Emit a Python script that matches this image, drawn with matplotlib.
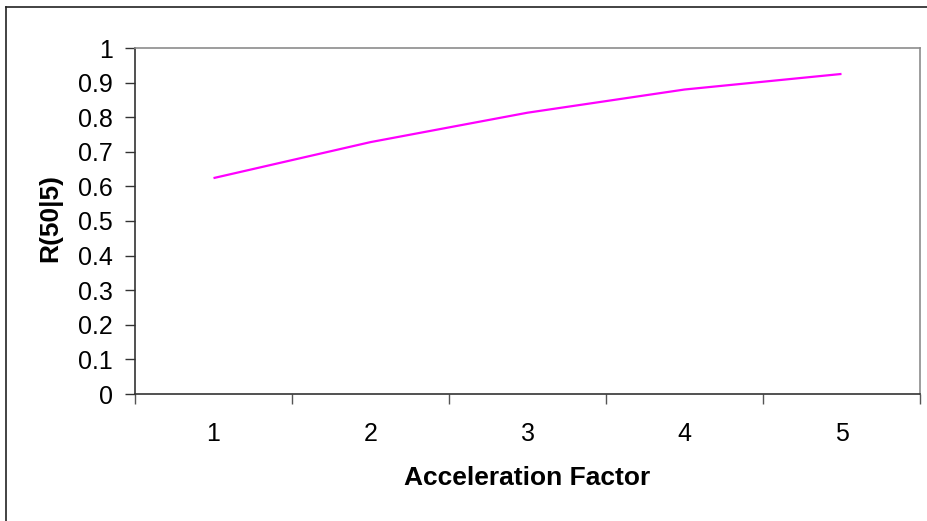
import matplotlib
matplotlib.use("Agg")
import matplotlib.pyplot as plt
from matplotlib.lines import Line2D

plt.rcParams['font.family'] = ['Liberation Sans', 'DejaVu Sans']

factors = [1, 2, 3, 4, 5]
reliability = [0.624, 0.728, 0.813, 0.880, 0.925]
y_ticks = [0, 0.1, 0.2, 0.3, 0.4, 0.5, 0.6, 0.7, 0.8, 0.9, 1]
y_tick_labels = ["0", "0.1", "0.2", "0.3", "0.4", "0.5", "0.6", "0.7", "0.8", "0.9", "1"]

fig = plt.figure(figsize=(9.28, 5.21), dpi=100)
ax = fig.add_axes([135 / 928, 1 - 394 / 521, (920 - 135) / 928, (394 - 48) / 521])

ax.plot(factors, reliability, color="#FF00FF", linewidth=1.6, solid_capstyle="butt")

ax.set_xlim(0.5, 5.5)
ax.set_ylim(0, 1)

ax.set_yticks(y_ticks)
ax.set_yticklabels(y_tick_labels)
ax.set_xticks(factors)
ax.set_xticklabels([str(f) for f in factors])
ax.set_xticks([0.5, 1.5, 2.5, 3.5, 4.5, 5.5], minor=True)

ax.tick_params(axis="y", which="major", direction="out", length=7, width=1,
               color="#333333", labelsize=18, pad=9)
ax.tick_params(axis="x", which="major", length=0, labelsize=18, pad=20)
ax.tick_params(axis="x", which="minor", direction="out", length=7, width=1,
               color="#555555")

for side in ("left", "bottom"):
    ax.spines[side].set_color("#333333")
    ax.spines[side].set_linewidth(1.2)
for side in ("top", "right"):
    ax.spines[side].set_color("#8c8c8c")
    ax.spines[side].set_linewidth(1.2)

ax.set_ylabel("R(50|5)", fontsize=19, fontweight="bold", va="center")
ax.yaxis.set_label_coords((50 - 135) / 785, 0.51)
ax.set_xlabel("Acceleration Factor", fontsize=19, fontweight="bold", va="center")
ax.xaxis.set_label_coords(0.5, (394 - 478) / 346)

# outer chart frame
fig.add_artist(Line2D([6.5 / 928, 6.5 / 928], [0, 1 - 6.5 / 521],
                      transform=fig.transFigure, color="#222222", linewidth=1.2))
fig.add_artist(Line2D([6.5 / 928, 1], [1 - 6.5 / 521, 1 - 6.5 / 521],
                      transform=fig.transFigure, color="#222222", linewidth=1.2))

fig.savefig("out.png", dpi=100)
